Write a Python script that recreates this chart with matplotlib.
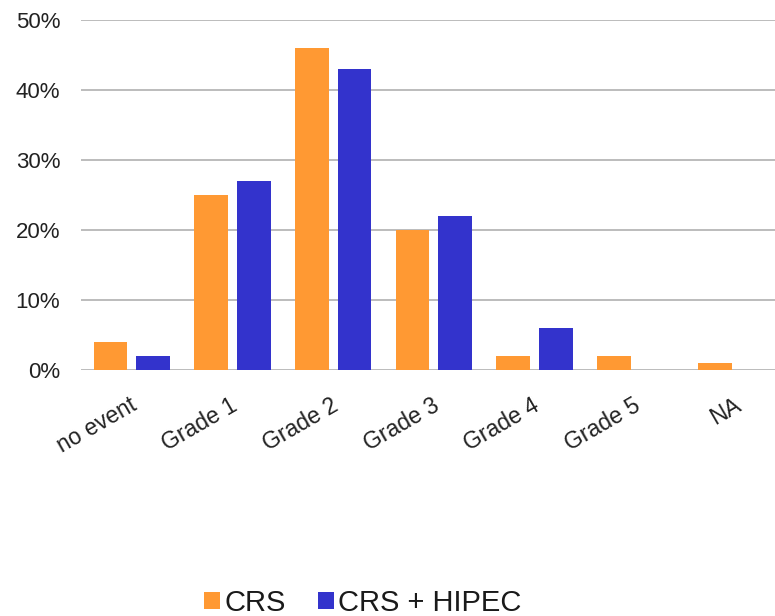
import matplotlib
matplotlib.use("Agg")
import matplotlib.pyplot as plt
import matplotlib.transforms as mtransforms
from matplotlib.ticker import PercentFormatter
import numpy as np

categories = ["no event", "Grade 1", "Grade 2", "Grade 3", "Grade 4", "Grade 5", "NA"]
crs = [4, 25, 46, 20, 2, 2, 1]
crs_hipec = [2, 27, 43, 22, 6, 0, 0]
series_names = ["CRS", "CRS + HIPEC"]
yticks = [0, 10, 20, 30, 40, 50]

plt.rcParams["font.family"] = ["Liberation Sans", "DejaVu Sans"]

fig = plt.figure(figsize=(7.75, 6.16), dpi=100)
ax = fig.add_axes([81 / 775, 1 - 370 / 616, 1 - 81 / 775, 350 / 616])

x = np.arange(len(categories))
w = 0.335
off = 0.211
ax.bar(x - off, crs, width=w, color="#FF9933", label=series_names[0], zorder=3)
ax.bar(x + off, crs_hipec, width=w, color="#3333CC", label=series_names[1], zorder=3)

ax.set_xlim(-0.504, 6.388)
ax.set_ylim(0, 50)
ax.set_yticks(yticks)
ax.yaxis.set_major_formatter(PercentFormatter(decimals=0))
ax.grid(axis="y", color="#b0b0b0", linewidth=1.2, zorder=0)
for s in ax.spines.values():
    s.set_visible(False)
ax.tick_params(axis="both", length=0, colors="#222222")
ax.tick_params(axis="y", labelsize=16, pad=15)
ax.tick_params(axis="x", labelsize=16.5)

ax.set_xticks(x)
ax.set_xticklabels(categories, rotation=30, ha="right", va="top")
shift = mtransforms.ScaledTranslation(9 / 100, -19 / 100, fig.dpi_scale_trans)
for lbl in ax.get_xticklabels():
    lbl.set_transform(lbl.get_transform() + shift)

fig.legend(loc="center", bbox_to_anchor=(0.468, 1 - 603 / 616), ncol=2,
           frameon=False, fontsize=21, handlelength=0.55, handleheight=0.55,
           handletextpad=0.15, columnspacing=1.1, labelcolor="#1a1a1a")

fig.savefig("out.png", dpi=100)
